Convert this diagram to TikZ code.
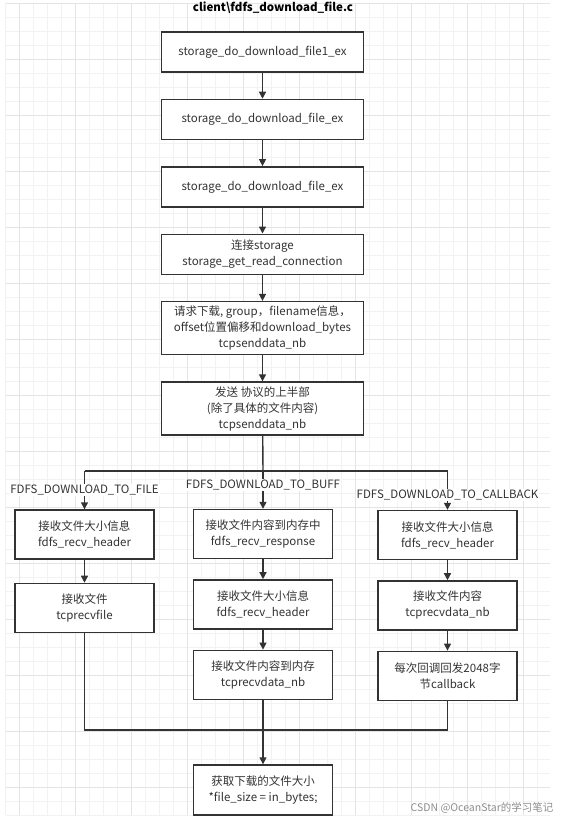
\documentclass[tikz,border=0pt]{standalone}
\usepackage{fontspec}
\setmainfont{Noto Sans CJK SC}
\usetikzlibrary{arrows.meta,positioning}

\definecolor{ink}{HTML}{333333}
\definecolor{gridminor}{HTML}{F2F2F2}
\definecolor{gridmajor}{HTML}{E4E4E4}

\begin{document}
\begin{tikzpicture}[x=1pt,y=-1pt,>={Triangle[length=7pt,width=7pt]},
    node distance=26pt,
    every node/.style={font=\fontsize{11.5}{16}\selectfont,text=ink},
    box/.style={draw=ink,line width=1.4pt,fill=white,inner sep=0pt,align=center,
                minimum width=202pt,minimum height=40pt},
    tall/.style={box,minimum height=53pt},
    sub/.style={box,minimum width=139pt,minimum height=49pt},
    lbl/.style={fill=white,inner sep=1pt},
    line/.style={draw=ink,line width=1.4pt},
    arr/.style={line,->}]

  \useasboundingbox (0,0) rectangle (571,823);

  % background grid
  \foreach \y in {3.3,17.3,...,816} \draw[gridminor,line width=0.8pt] (5.5,\y) -- (550,\y);
  \foreach \x in {5.5,19.5,...,551} \draw[gridminor,line width=0.8pt] (\x,3.3) -- (\x,815);
  \foreach \y in {3.3,59.3,...,816} \draw[gridmajor,line width=0.8pt] (5.5,\y) -- (550,\y);
  \foreach \x in {19.5,75.5,...,551} \draw[gridmajor,line width=0.8pt] (\x,3.3) -- (\x,815);

  \node[font=\bfseries\fontsize{11.5}{14}\selectfont,text=black] (title) at (273,8) {client\textbackslash fdfs\_download\_file.c};

  % main chain
  \node[box]  (m1) at (262.5,52) {storage\_do\_download\_file1\_ex};
  \node[box]  (m2) [below=of m1] {storage\_do\_download\_file\_ex};
  \node[box]  (m3) [below=of m2] {storage\_do\_download\_file\_ex};
  \node[box]  (m4) [below=of m3] {连接storage\\storage\_get\_read\_connection};
  \node[tall] (m5) [below=of m4] {请求下载, group，filename信息，\\offset位置偏移和download\_bytes\\tcpsenddata\_nb};
  \node[tall] (m6) [below=of m5] {发送 协议的上半部\\(除了具体的文件内容)\\tcpsenddata\_nb};

  % three branches
  \node[sub] (f1) at (84.5,534.5) {接收文件大小信息\\fdfs\_recv\_header};
  \node[sub] (f2) [below=23pt of f1] {接收文件\\tcprecvfile};

  \node[sub] (b1) at (263,534) {接收文件内容到内存中\\fdfs\_recv\_response};
  \node[sub] (b2) [below=20pt of b1] {接收文件大小信息\\fdfs\_recv\_header};
  \node[sub] (b3) [below=20pt of b2] {接收文件内容到内存\\tcprecvdata\_nb};

  \node[sub] (c1) at (447.5,535) {接收文件大小信息\\fdfs\_recv\_header};
  \node[sub] (c2) [below=20pt of c1] {接收文件内容\\tcprecvdata\_nb};
  \node[sub] (c3) [below=20pt of c2] {每次回调回发2048字\\节callback};

  \node[sub,minimum height=50pt] (res) at (263,790) {获取下载的文件大小\\*file\_size = in\_bytes;};

  \node[font=\fontsize{10.5}{12}\selectfont,text=black!45,anchor=east] (mark) at (557,808) {CSDN @OceanStar的学习笔记};

  \coordinate (fork) at (263,471);
  \coordinate (join) at (263,730);

  \draw[arr] (m1) -- (m2);
  \draw[arr] (m2) -- (m3);
  \draw[arr] (m3) -- (m4);
  \draw[arr] (m4) -- (m5);
  \draw[arr] (m5) -- (m6);

  \draw[line] (m6) -- (fork);
  \draw[line] (fork -| f1) -- (fork -| c1);
  \draw[arr] (fork -| f1) -- node[lbl,pos=.49] {FDFS\_DOWNLOAD\_TO\_FILE} (f1);
  \draw[arr] (fork) -- node[lbl,pos=.38] {FDFS\_DOWNLOAD\_TO\_BUFF} (b1);
  \draw[arr] (fork -| c1) -- node[lbl,pos=.62] {FDFS\_DOWNLOAD\_TO\_CALLBACK} (c1);

  \draw[arr] (f1) -- (f2);
  \draw[arr] (b1) -- (b2);
  \draw[arr] (b2) -- (b3);
  \draw[arr] (c1) -- (c2);
  \draw[arr] (c2) -- (c3);

  \draw[line] (f2) |- (join);
  \draw[line] (c3) |- (join);
  \draw[arr] (b3) -- (res);

\end{tikzpicture}
\end{document}
